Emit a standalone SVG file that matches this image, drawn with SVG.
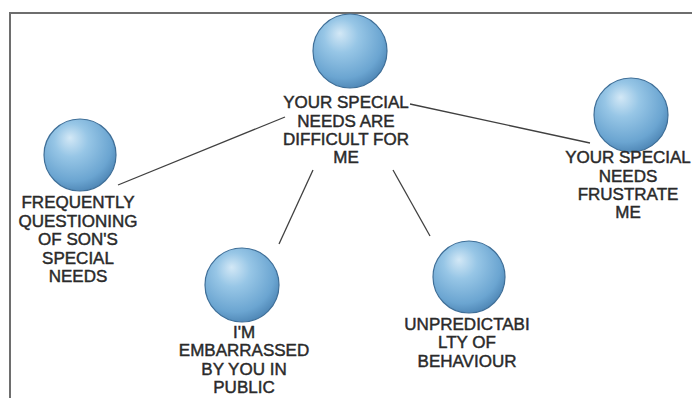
<svg xmlns="http://www.w3.org/2000/svg" width="692" height="398" viewBox="0 0 692 398">
  <defs>
    <radialGradient id="ball" cx="0.42" cy="0.36" r="0.66" fx="0.36" fy="0.26">
      <stop offset="0" stop-color="#d3e8f6"/>
      <stop offset="0.35" stop-color="#97c6e6"/>
      <stop offset="0.8" stop-color="#6ba5d1"/>
      <stop offset="1" stop-color="#4f87b6"/>
    </radialGradient>
    <style>
      .ball { fill: url(#ball); stroke: #3f6f98; stroke-width: 1.2; }
      .label { font-family: "Liberation Sans", Arial, sans-serif; font-size: 17px; fill: #2a2a2a; stroke: #2a2a2a; stroke-width: 0.45; text-anchor: middle; }
      .edge { stroke: #404040; stroke-width: 1.3; fill: none; }
      .frame { stroke: #6e6e6e; stroke-width: 2; fill: none; }
    </style>
  </defs>
  <rect width="692" height="398" fill="#ffffff"/>
  <path class="frame" d="M10,398 V13 H692"/>

  <g id="connectors">
    <line class="edge" x1="285" y1="117" x2="118" y2="185"/>
    <line class="edge" x1="410" y1="104" x2="590" y2="143"/>
    <line class="edge" x1="313" y1="170" x2="279" y2="244"/>
    <line class="edge" x1="393" y1="170" x2="430" y2="236"/>
  </g>

  <g id="node-center">
    <circle class="ball" cx="350" cy="51" r="37"/>
    <text class="label" x="346" y="108">YOUR SPECIAL</text>
    <text class="label" x="346" y="127">NEEDS ARE</text>
    <text class="label" x="346" y="145">DIFFICULT FOR</text>
    <text class="label" x="346" y="163">ME</text>
  </g>

  <g id="node-questioning">
    <circle class="ball" cx="80" cy="155" r="36"/>
    <text class="label" x="78" y="208">FREQUENTLY</text>
    <text class="label" x="78" y="227">QUESTIONING</text>
    <text class="label" x="78" y="245">OF SON'S</text>
    <text class="label" x="78" y="264">SPECIAL</text>
    <text class="label" x="78" y="282">NEEDS</text>
  </g>

  <g id="node-frustrate">
    <circle class="ball" cx="631" cy="115" r="37"/>
    <text class="label" x="628" y="163">YOUR SPECIAL</text>
    <text class="label" x="628" y="182">NEEDS</text>
    <text class="label" x="628" y="200">FRUSTRATE</text>
    <text class="label" x="628" y="218">ME</text>
  </g>

  <g id="node-embarrassed">
    <circle class="ball" cx="242" cy="285" r="37"/>
    <text class="label" x="244" y="338">I'M</text>
    <text class="label" x="244" y="356">EMBARRASSED</text>
    <text class="label" x="244" y="375">BY YOU IN</text>
    <text class="label" x="244" y="393">PUBLIC</text>
  </g>

  <g id="node-unpredictability">
    <circle class="ball" cx="469" cy="277" r="36"/>
    <text class="label" x="467" y="330">UNPREDICTABI</text>
    <text class="label" x="467" y="348">LTY OF</text>
    <text class="label" x="467" y="367">BEHAVIOUR</text>
  </g>
</svg>
